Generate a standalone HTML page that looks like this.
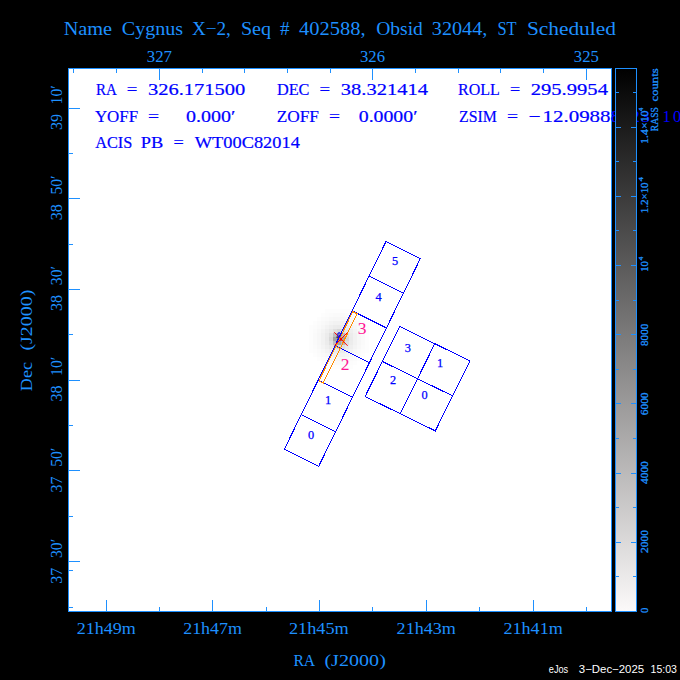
<!DOCTYPE html>
<html><head><meta charset="utf-8"><style>
html,body{margin:0;padding:0;background:#000;width:680px;height:680px;overflow:hidden}
svg{display:block} text{white-space:pre}
</style></head><body>
<svg width="680" height="680" viewBox="0 0 680 680">
<rect x="0" y="0" width="680" height="680" fill="#000"/>
<rect x="68" y="68" width="543" height="543" fill="#ffffff"/>
<g shape-rendering="crispEdges"><rect x="308.5" y="325.0" width="4.0" height="4.0" fill="rgb(253,253,253)"/><rect x="308.5" y="329.0" width="4.0" height="4.0" fill="rgb(253,253,253)"/><rect x="308.5" y="333.0" width="4.0" height="4.0" fill="rgb(253,253,253)"/><rect x="308.5" y="337.0" width="4.0" height="4.0" fill="rgb(253,253,253)"/><rect x="308.5" y="341.0" width="4.0" height="4.0" fill="rgb(253,253,253)"/><rect x="308.5" y="345.0" width="4.0" height="4.0" fill="rgb(253,253,253)"/><rect x="308.5" y="349.0" width="4.0" height="4.0" fill="rgb(253,253,253)"/><rect x="312.5" y="321.0" width="4.0" height="4.0" fill="rgb(253,253,253)"/><rect x="312.5" y="325.0" width="4.0" height="4.0" fill="rgb(252,252,252)"/><rect x="312.5" y="329.0" width="4.0" height="4.0" fill="rgb(251,251,251)"/><rect x="312.5" y="333.0" width="4.0" height="4.0" fill="rgb(250,250,250)"/><rect x="312.5" y="337.0" width="4.0" height="4.0" fill="rgb(250,250,250)"/><rect x="312.5" y="341.0" width="4.0" height="4.0" fill="rgb(250,250,250)"/><rect x="312.5" y="345.0" width="4.0" height="4.0" fill="rgb(251,251,251)"/><rect x="312.5" y="349.0" width="4.0" height="4.0" fill="rgb(252,252,252)"/><rect x="312.5" y="353.0" width="4.0" height="4.0" fill="rgb(253,253,253)"/><rect x="316.5" y="317.0" width="4.0" height="4.0" fill="rgb(253,253,253)"/><rect x="316.5" y="321.0" width="4.0" height="4.0" fill="rgb(251,251,251)"/><rect x="316.5" y="325.0" width="4.0" height="4.0" fill="rgb(250,250,250)"/><rect x="316.5" y="329.0" width="4.0" height="4.0" fill="rgb(248,248,248)"/><rect x="316.5" y="333.0" width="4.0" height="4.0" fill="rgb(247,247,247)"/><rect x="316.5" y="337.0" width="4.0" height="4.0" fill="rgb(247,247,247)"/><rect x="316.5" y="341.0" width="4.0" height="4.0" fill="rgb(247,247,247)"/><rect x="316.5" y="345.0" width="4.0" height="4.0" fill="rgb(248,248,248)"/><rect x="316.5" y="349.0" width="4.0" height="4.0" fill="rgb(250,250,250)"/><rect x="316.5" y="353.0" width="4.0" height="4.0" fill="rgb(251,251,251)"/><rect x="316.5" y="357.0" width="4.0" height="4.0" fill="rgb(253,253,253)"/><rect x="320.5" y="313.0" width="4.0" height="4.0" fill="rgb(253,253,253)"/><rect x="320.5" y="317.0" width="4.0" height="4.0" fill="rgb(251,251,251)"/><rect x="320.5" y="321.0" width="4.0" height="4.0" fill="rgb(249,249,249)"/><rect x="320.5" y="325.0" width="4.0" height="4.0" fill="rgb(247,247,247)"/><rect x="320.5" y="329.0" width="4.0" height="4.0" fill="rgb(244,244,244)"/><rect x="320.5" y="333.0" width="4.0" height="4.0" fill="rgb(242,242,242)"/><rect x="320.5" y="337.0" width="4.0" height="4.0" fill="rgb(242,242,242)"/><rect x="320.5" y="341.0" width="4.0" height="4.0" fill="rgb(242,242,242)"/><rect x="320.5" y="345.0" width="4.0" height="4.0" fill="rgb(244,244,244)"/><rect x="320.5" y="349.0" width="4.0" height="4.0" fill="rgb(247,247,247)"/><rect x="320.5" y="353.0" width="4.0" height="4.0" fill="rgb(249,249,249)"/><rect x="320.5" y="357.0" width="4.0" height="4.0" fill="rgb(251,251,251)"/><rect x="320.5" y="361.0" width="4.0" height="4.0" fill="rgb(253,253,253)"/><rect x="324.5" y="309.0" width="4.0" height="4.0" fill="rgb(253,253,253)"/><rect x="324.5" y="313.0" width="4.0" height="4.0" fill="rgb(252,252,252)"/><rect x="324.5" y="317.0" width="4.0" height="4.0" fill="rgb(250,250,250)"/><rect x="324.5" y="321.0" width="4.0" height="4.0" fill="rgb(247,247,247)"/><rect x="324.5" y="325.0" width="4.0" height="4.0" fill="rgb(243,243,243)"/><rect x="324.5" y="329.0" width="4.0" height="4.0" fill="rgb(239,239,239)"/><rect x="324.5" y="333.0" width="4.0" height="4.0" fill="rgb(236,236,236)"/><rect x="324.5" y="337.0" width="4.0" height="4.0" fill="rgb(235,235,235)"/><rect x="324.5" y="341.0" width="4.0" height="4.0" fill="rgb(236,236,236)"/><rect x="324.5" y="345.0" width="4.0" height="4.0" fill="rgb(239,239,239)"/><rect x="324.5" y="349.0" width="4.0" height="4.0" fill="rgb(243,243,243)"/><rect x="324.5" y="353.0" width="4.0" height="4.0" fill="rgb(247,247,247)"/><rect x="324.5" y="357.0" width="4.0" height="4.0" fill="rgb(250,250,250)"/><rect x="324.5" y="361.0" width="4.0" height="4.0" fill="rgb(252,252,252)"/><rect x="324.5" y="365.0" width="4.0" height="4.0" fill="rgb(253,253,253)"/><rect x="328.5" y="309.0" width="4.0" height="4.0" fill="rgb(253,253,253)"/><rect x="328.5" y="313.0" width="4.0" height="4.0" fill="rgb(251,251,251)"/><rect x="328.5" y="317.0" width="4.0" height="4.0" fill="rgb(248,248,248)"/><rect x="328.5" y="321.0" width="4.0" height="4.0" fill="rgb(244,244,244)"/><rect x="328.5" y="325.0" width="4.0" height="4.0" fill="rgb(239,239,239)"/><rect x="328.5" y="329.0" width="4.0" height="4.0" fill="rgb(233,233,233)"/><rect x="328.5" y="333.0" width="4.0" height="4.0" fill="rgb(223,223,223)"/><rect x="328.5" y="337.0" width="4.0" height="4.0" fill="rgb(216,216,216)"/><rect x="328.5" y="341.0" width="4.0" height="4.0" fill="rgb(223,223,223)"/><rect x="328.5" y="345.0" width="4.0" height="4.0" fill="rgb(233,233,233)"/><rect x="328.5" y="349.0" width="4.0" height="4.0" fill="rgb(239,239,239)"/><rect x="328.5" y="353.0" width="4.0" height="4.0" fill="rgb(244,244,244)"/><rect x="328.5" y="357.0" width="4.0" height="4.0" fill="rgb(248,248,248)"/><rect x="328.5" y="361.0" width="4.0" height="4.0" fill="rgb(251,251,251)"/><rect x="328.5" y="365.0" width="4.0" height="4.0" fill="rgb(253,253,253)"/><rect x="332.5" y="309.0" width="4.0" height="4.0" fill="rgb(253,253,253)"/><rect x="332.5" y="313.0" width="4.0" height="4.0" fill="rgb(250,250,250)"/><rect x="332.5" y="317.0" width="4.0" height="4.0" fill="rgb(247,247,247)"/><rect x="332.5" y="321.0" width="4.0" height="4.0" fill="rgb(242,242,242)"/><rect x="332.5" y="325.0" width="4.0" height="4.0" fill="rgb(236,236,236)"/><rect x="332.5" y="329.0" width="4.0" height="4.0" fill="rgb(223,223,223)"/><rect x="332.5" y="333.0" width="4.0" height="4.0" fill="rgb(189,189,189)"/><rect x="332.5" y="337.0" width="4.0" height="4.0" fill="rgb(163,163,163)"/><rect x="332.5" y="341.0" width="4.0" height="4.0" fill="rgb(189,189,189)"/><rect x="332.5" y="345.0" width="4.0" height="4.0" fill="rgb(223,223,223)"/><rect x="332.5" y="349.0" width="4.0" height="4.0" fill="rgb(236,236,236)"/><rect x="332.5" y="353.0" width="4.0" height="4.0" fill="rgb(242,242,242)"/><rect x="332.5" y="357.0" width="4.0" height="4.0" fill="rgb(247,247,247)"/><rect x="332.5" y="361.0" width="4.0" height="4.0" fill="rgb(250,250,250)"/><rect x="332.5" y="365.0" width="4.0" height="4.0" fill="rgb(253,253,253)"/><rect x="336.5" y="309.0" width="4.0" height="4.0" fill="rgb(253,253,253)"/><rect x="336.5" y="313.0" width="4.0" height="4.0" fill="rgb(250,250,250)"/><rect x="336.5" y="317.0" width="4.0" height="4.0" fill="rgb(247,247,247)"/><rect x="336.5" y="321.0" width="4.0" height="4.0" fill="rgb(242,242,242)"/><rect x="336.5" y="325.0" width="4.0" height="4.0" fill="rgb(235,235,235)"/><rect x="336.5" y="329.0" width="4.0" height="4.0" fill="rgb(216,216,216)"/><rect x="336.5" y="333.0" width="4.0" height="4.0" fill="rgb(163,163,163)"/><rect x="336.5" y="337.0" width="4.0" height="4.0" fill="rgb(120,120,120)"/><rect x="336.5" y="341.0" width="4.0" height="4.0" fill="rgb(163,163,163)"/><rect x="336.5" y="345.0" width="4.0" height="4.0" fill="rgb(216,216,216)"/><rect x="336.5" y="349.0" width="4.0" height="4.0" fill="rgb(235,235,235)"/><rect x="336.5" y="353.0" width="4.0" height="4.0" fill="rgb(242,242,242)"/><rect x="336.5" y="357.0" width="4.0" height="4.0" fill="rgb(247,247,247)"/><rect x="336.5" y="361.0" width="4.0" height="4.0" fill="rgb(250,250,250)"/><rect x="336.5" y="365.0" width="4.0" height="4.0" fill="rgb(253,253,253)"/><rect x="340.5" y="309.0" width="4.0" height="4.0" fill="rgb(253,253,253)"/><rect x="340.5" y="313.0" width="4.0" height="4.0" fill="rgb(250,250,250)"/><rect x="340.5" y="317.0" width="4.0" height="4.0" fill="rgb(247,247,247)"/><rect x="340.5" y="321.0" width="4.0" height="4.0" fill="rgb(242,242,242)"/><rect x="340.5" y="325.0" width="4.0" height="4.0" fill="rgb(236,236,236)"/><rect x="340.5" y="329.0" width="4.0" height="4.0" fill="rgb(223,223,223)"/><rect x="340.5" y="333.0" width="4.0" height="4.0" fill="rgb(189,189,189)"/><rect x="340.5" y="337.0" width="4.0" height="4.0" fill="rgb(163,163,163)"/><rect x="340.5" y="341.0" width="4.0" height="4.0" fill="rgb(189,189,189)"/><rect x="340.5" y="345.0" width="4.0" height="4.0" fill="rgb(223,223,223)"/><rect x="340.5" y="349.0" width="4.0" height="4.0" fill="rgb(236,236,236)"/><rect x="340.5" y="353.0" width="4.0" height="4.0" fill="rgb(242,242,242)"/><rect x="340.5" y="357.0" width="4.0" height="4.0" fill="rgb(247,247,247)"/><rect x="340.5" y="361.0" width="4.0" height="4.0" fill="rgb(250,250,250)"/><rect x="340.5" y="365.0" width="4.0" height="4.0" fill="rgb(253,253,253)"/><rect x="344.5" y="309.0" width="4.0" height="4.0" fill="rgb(253,253,253)"/><rect x="344.5" y="313.0" width="4.0" height="4.0" fill="rgb(251,251,251)"/><rect x="344.5" y="317.0" width="4.0" height="4.0" fill="rgb(248,248,248)"/><rect x="344.5" y="321.0" width="4.0" height="4.0" fill="rgb(244,244,244)"/><rect x="344.5" y="325.0" width="4.0" height="4.0" fill="rgb(239,239,239)"/><rect x="344.5" y="329.0" width="4.0" height="4.0" fill="rgb(233,233,233)"/><rect x="344.5" y="333.0" width="4.0" height="4.0" fill="rgb(223,223,223)"/><rect x="344.5" y="337.0" width="4.0" height="4.0" fill="rgb(216,216,216)"/><rect x="344.5" y="341.0" width="4.0" height="4.0" fill="rgb(223,223,223)"/><rect x="344.5" y="345.0" width="4.0" height="4.0" fill="rgb(233,233,233)"/><rect x="344.5" y="349.0" width="4.0" height="4.0" fill="rgb(239,239,239)"/><rect x="344.5" y="353.0" width="4.0" height="4.0" fill="rgb(244,244,244)"/><rect x="344.5" y="357.0" width="4.0" height="4.0" fill="rgb(248,248,248)"/><rect x="344.5" y="361.0" width="4.0" height="4.0" fill="rgb(251,251,251)"/><rect x="344.5" y="365.0" width="4.0" height="4.0" fill="rgb(253,253,253)"/><rect x="348.5" y="309.0" width="4.0" height="4.0" fill="rgb(253,253,253)"/><rect x="348.5" y="313.0" width="4.0" height="4.0" fill="rgb(252,252,252)"/><rect x="348.5" y="317.0" width="4.0" height="4.0" fill="rgb(250,250,250)"/><rect x="348.5" y="321.0" width="4.0" height="4.0" fill="rgb(247,247,247)"/><rect x="348.5" y="325.0" width="4.0" height="4.0" fill="rgb(243,243,243)"/><rect x="348.5" y="329.0" width="4.0" height="4.0" fill="rgb(239,239,239)"/><rect x="348.5" y="333.0" width="4.0" height="4.0" fill="rgb(236,236,236)"/><rect x="348.5" y="337.0" width="4.0" height="4.0" fill="rgb(235,235,235)"/><rect x="348.5" y="341.0" width="4.0" height="4.0" fill="rgb(236,236,236)"/><rect x="348.5" y="345.0" width="4.0" height="4.0" fill="rgb(239,239,239)"/><rect x="348.5" y="349.0" width="4.0" height="4.0" fill="rgb(243,243,243)"/><rect x="348.5" y="353.0" width="4.0" height="4.0" fill="rgb(247,247,247)"/><rect x="348.5" y="357.0" width="4.0" height="4.0" fill="rgb(250,250,250)"/><rect x="348.5" y="361.0" width="4.0" height="4.0" fill="rgb(252,252,252)"/><rect x="348.5" y="365.0" width="4.0" height="4.0" fill="rgb(253,253,253)"/><rect x="352.5" y="313.0" width="4.0" height="4.0" fill="rgb(253,253,253)"/><rect x="352.5" y="317.0" width="4.0" height="4.0" fill="rgb(251,251,251)"/><rect x="352.5" y="321.0" width="4.0" height="4.0" fill="rgb(249,249,249)"/><rect x="352.5" y="325.0" width="4.0" height="4.0" fill="rgb(247,247,247)"/><rect x="352.5" y="329.0" width="4.0" height="4.0" fill="rgb(244,244,244)"/><rect x="352.5" y="333.0" width="4.0" height="4.0" fill="rgb(242,242,242)"/><rect x="352.5" y="337.0" width="4.0" height="4.0" fill="rgb(242,242,242)"/><rect x="352.5" y="341.0" width="4.0" height="4.0" fill="rgb(242,242,242)"/><rect x="352.5" y="345.0" width="4.0" height="4.0" fill="rgb(244,244,244)"/><rect x="352.5" y="349.0" width="4.0" height="4.0" fill="rgb(247,247,247)"/><rect x="352.5" y="353.0" width="4.0" height="4.0" fill="rgb(249,249,249)"/><rect x="352.5" y="357.0" width="4.0" height="4.0" fill="rgb(251,251,251)"/><rect x="352.5" y="361.0" width="4.0" height="4.0" fill="rgb(253,253,253)"/><rect x="356.5" y="317.0" width="4.0" height="4.0" fill="rgb(253,253,253)"/><rect x="356.5" y="321.0" width="4.0" height="4.0" fill="rgb(251,251,251)"/><rect x="356.5" y="325.0" width="4.0" height="4.0" fill="rgb(250,250,250)"/><rect x="356.5" y="329.0" width="4.0" height="4.0" fill="rgb(248,248,248)"/><rect x="356.5" y="333.0" width="4.0" height="4.0" fill="rgb(247,247,247)"/><rect x="356.5" y="337.0" width="4.0" height="4.0" fill="rgb(247,247,247)"/><rect x="356.5" y="341.0" width="4.0" height="4.0" fill="rgb(247,247,247)"/><rect x="356.5" y="345.0" width="4.0" height="4.0" fill="rgb(248,248,248)"/><rect x="356.5" y="349.0" width="4.0" height="4.0" fill="rgb(250,250,250)"/><rect x="356.5" y="353.0" width="4.0" height="4.0" fill="rgb(251,251,251)"/><rect x="356.5" y="357.0" width="4.0" height="4.0" fill="rgb(253,253,253)"/><rect x="360.5" y="321.0" width="4.0" height="4.0" fill="rgb(253,253,253)"/><rect x="360.5" y="325.0" width="4.0" height="4.0" fill="rgb(252,252,252)"/><rect x="360.5" y="329.0" width="4.0" height="4.0" fill="rgb(251,251,251)"/><rect x="360.5" y="333.0" width="4.0" height="4.0" fill="rgb(250,250,250)"/><rect x="360.5" y="337.0" width="4.0" height="4.0" fill="rgb(250,250,250)"/><rect x="360.5" y="341.0" width="4.0" height="4.0" fill="rgb(250,250,250)"/><rect x="360.5" y="345.0" width="4.0" height="4.0" fill="rgb(251,251,251)"/><rect x="360.5" y="349.0" width="4.0" height="4.0" fill="rgb(252,252,252)"/><rect x="360.5" y="353.0" width="4.0" height="4.0" fill="rgb(253,253,253)"/><rect x="364.5" y="325.0" width="4.0" height="4.0" fill="rgb(253,253,253)"/><rect x="364.5" y="329.0" width="4.0" height="4.0" fill="rgb(253,253,253)"/><rect x="364.5" y="333.0" width="4.0" height="4.0" fill="rgb(253,253,253)"/><rect x="364.5" y="337.0" width="4.0" height="4.0" fill="rgb(253,253,253)"/><rect x="364.5" y="341.0" width="4.0" height="4.0" fill="rgb(253,253,253)"/><rect x="364.5" y="345.0" width="4.0" height="4.0" fill="rgb(253,253,253)"/><rect x="364.5" y="349.0" width="4.0" height="4.0" fill="rgb(253,253,253)"/></g>
<polygon points="386.00,241.50 420.30,258.70 318.60,466.48 284.30,449.28" fill="none" stroke="#0000ff" stroke-width="1.0" shape-rendering="crispEdges"/>
<line x1="369.05" y1="276.13" x2="403.35" y2="293.33" stroke="#0000ff" stroke-width="1.0" shape-rendering="crispEdges"/>
<line x1="352.10" y1="310.76" x2="386.40" y2="327.96" stroke="#0000ff" stroke-width="1.0" shape-rendering="crispEdges"/>
<line x1="335.15" y1="345.39" x2="369.45" y2="362.59" stroke="#0000ff" stroke-width="1.0" shape-rendering="crispEdges"/>
<line x1="318.20" y1="380.02" x2="352.50" y2="397.22" stroke="#0000ff" stroke-width="1.0" shape-rendering="crispEdges"/>
<line x1="301.25" y1="414.65" x2="335.55" y2="431.85" stroke="#0000ff" stroke-width="1.0" shape-rendering="crispEdges"/>
<polygon points="399.70,326.50 469.90,360.90 435.30,430.90 365.10,396.50" fill="none" stroke="#0000ff" stroke-width="1.0" shape-rendering="crispEdges"/>
<line x1="434.80" y1="343.70" x2="400.20" y2="413.70" stroke="#0000ff" stroke-width="1.0" shape-rendering="crispEdges"/>
<line x1="382.40" y1="361.50" x2="452.60" y2="395.90" stroke="#0000ff" stroke-width="1.0" shape-rendering="crispEdges"/>
<polygon points="352.80,311.66 357.09,313.81 340.14,348.44 335.85,346.29" fill="none" stroke="#ff8c00" stroke-width="1.0" shape-rendering="crispEdges"/>
<polygon points="335.85,346.29 340.14,348.44 323.19,383.07 318.90,380.92" fill="none" stroke="#ff8c00" stroke-width="1.0" shape-rendering="crispEdges"/>
<text x="395.00" y="265.42" font-size="12.3" fill="#0000ff" stroke="#0000ff" stroke-width="0.25" font-family='"Liberation Serif", serif' text-anchor="middle">5</text>
<text x="378.60" y="300.62" font-size="12.3" fill="#0000ff" stroke="#0000ff" stroke-width="0.25" font-family='"Liberation Serif", serif' text-anchor="middle">4</text>
<text x="328.10" y="403.92" font-size="12.3" fill="#0000ff" stroke="#0000ff" stroke-width="0.25" font-family='"Liberation Serif", serif' text-anchor="middle">1</text>
<text x="311.00" y="438.82" font-size="12.3" fill="#0000ff" stroke="#0000ff" stroke-width="0.25" font-family='"Liberation Serif", serif' text-anchor="middle">0</text>
<text x="407.80" y="351.82" font-size="12.3" fill="#0000ff" stroke="#0000ff" stroke-width="0.25" font-family='"Liberation Serif", serif' text-anchor="middle">3</text>
<text x="440.00" y="367.12" font-size="12.3" fill="#0000ff" stroke="#0000ff" stroke-width="0.25" font-family='"Liberation Serif", serif' text-anchor="middle">1</text>
<text x="393.00" y="383.52" font-size="12.3" fill="#0000ff" stroke="#0000ff" stroke-width="0.25" font-family='"Liberation Serif", serif' text-anchor="middle">2</text>
<text x="424.50" y="399.02" font-size="12.3" fill="#0000ff" stroke="#0000ff" stroke-width="0.25" font-family='"Liberation Serif", serif' text-anchor="middle">0</text>
<text x="362.10" y="334.16" font-size="17.5" fill="#ff1493" font-family='"Liberation Serif", serif' text-anchor="middle">3</text>
<text x="345.00" y="369.96" font-size="17.5" fill="#ff1493" font-family='"Liberation Serif", serif' text-anchor="middle">2</text>
<line x1="334.3" y1="332.3" x2="347.6" y2="345.8" stroke="#ff0000" stroke-width="1.0"/>
<line x1="347.5" y1="332.5" x2="334.5" y2="345.5" stroke="#ff0000" stroke-width="1.0"/>
<ellipse cx="339.1" cy="334.8" rx="1.3" ry="2.3" fill="none" stroke="#0000ff" stroke-width="1"/>
<rect x="336.5" y="336.5" width="1.2" height="1.2" fill="#000"/>
<rect x="340" y="338.5" width="2" height="2" fill="#e00"/>
<line x1="68.5" y1="68" x2="68.5" y2="612" stroke="#1e90ff" stroke-width="1"/>
<line x1="68" y1="68.5" x2="612" y2="68.5" stroke="#1e90ff" stroke-width="1"/>
<line x1="611.5" y1="68" x2="611.5" y2="612" stroke="#1e90ff" stroke-width="1"/>
<line x1="68" y1="611.5" x2="612" y2="611.5" stroke="#1e90ff" stroke-width="1"/>
<rect x="159" y="69" width="1" height="11" fill="#1e90ff"/>
<rect x="372" y="69" width="1" height="11" fill="#1e90ff"/>
<rect x="586" y="69" width="1" height="11" fill="#1e90ff"/>
<rect x="73" y="69" width="1" height="4" fill="#1e90ff"/>
<rect x="116" y="69" width="1" height="4" fill="#1e90ff"/>
<rect x="202" y="69" width="1" height="4" fill="#1e90ff"/>
<rect x="244" y="69" width="1" height="4" fill="#1e90ff"/>
<rect x="287" y="69" width="1" height="4" fill="#1e90ff"/>
<rect x="330" y="69" width="1" height="4" fill="#1e90ff"/>
<rect x="415" y="69" width="1" height="4" fill="#1e90ff"/>
<rect x="458" y="69" width="1" height="4" fill="#1e90ff"/>
<rect x="500" y="69" width="1" height="4" fill="#1e90ff"/>
<rect x="543" y="69" width="1" height="4" fill="#1e90ff"/>
<rect x="106" y="600" width="1" height="11" fill="#1e90ff"/>
<rect x="212" y="600" width="1" height="11" fill="#1e90ff"/>
<rect x="319" y="600" width="1" height="11" fill="#1e90ff"/>
<rect x="426" y="600" width="1" height="11" fill="#1e90ff"/>
<rect x="533" y="600" width="1" height="11" fill="#1e90ff"/>
<rect x="159" y="607" width="1" height="4" fill="#1e90ff"/>
<rect x="266" y="607" width="1" height="4" fill="#1e90ff"/>
<rect x="372" y="607" width="1" height="4" fill="#1e90ff"/>
<rect x="479" y="607" width="1" height="4" fill="#1e90ff"/>
<rect x="586" y="607" width="1" height="4" fill="#1e90ff"/>
<rect x="69" y="108" width="11" height="1" fill="#1e90ff"/>
<rect x="69" y="198" width="11" height="1" fill="#1e90ff"/>
<rect x="69" y="289" width="11" height="1" fill="#1e90ff"/>
<rect x="69" y="380" width="11" height="1" fill="#1e90ff"/>
<rect x="69" y="470" width="11" height="1" fill="#1e90ff"/>
<rect x="69" y="561" width="11" height="1" fill="#1e90ff"/>
<rect x="69" y="153" width="4" height="1" fill="#1e90ff"/>
<rect x="69" y="244" width="4" height="1" fill="#1e90ff"/>
<rect x="69" y="334" width="4" height="1" fill="#1e90ff"/>
<rect x="69" y="425" width="4" height="1" fill="#1e90ff"/>
<rect x="69" y="516" width="4" height="1" fill="#1e90ff"/>
<rect x="69" y="607" width="4" height="1" fill="#1e90ff"/>
<rect x="69" y="570" width="4" height="1" fill="#1e90ff"/>
<text xml:space="preserve" x="631.40" y="121.80" font-size="16.5" fill="#0000ff" font-family='"Liberation Serif", serif' text-anchor="start">2</text>
<text xml:space="preserve" x="641.80" y="121.80" font-size="16.5" fill="#0000ff" font-family='"Liberation Serif", serif' text-anchor="start">3</text>
<text xml:space="preserve" x="662.60" y="121.80" font-size="16.5" fill="#0000ff" font-family='"Liberation Serif", serif' text-anchor="start">1</text>
<text xml:space="preserve" x="673.00" y="121.80" font-size="16.5" fill="#0000ff" font-family='"Liberation Serif", serif' text-anchor="start">0</text>
<text class="w" id="w34" xml:space="preserve" x="96.10" y="94.80" font-size="16.5" fill="#0000ff" font-family='"Liberation Serif", serif' textLength="20.79" lengthAdjust="spacingAndGlyphs" stroke="#0000ff" stroke-width="0.2">RA</text>
<text class="w" id="w35" xml:space="preserve" x="126.70" y="94.80" font-size="16.5" fill="#0000ff" font-family='"Liberation Serif", serif' textLength="10.58" lengthAdjust="spacingAndGlyphs" stroke="#0000ff" stroke-width="0.2">=</text>
<text class="w" id="w36" xml:space="preserve" x="147.90" y="94.80" font-size="16.5" fill="#0000ff" font-family='"Liberation Serif", serif' textLength="97.40" lengthAdjust="spacingAndGlyphs" stroke="#0000ff" stroke-width="0.2">326.171500</text>
<text class="w" id="w37" xml:space="preserve" x="276.90" y="94.80" font-size="16.5" fill="#0000ff" font-family='"Liberation Serif", serif' textLength="32.50" lengthAdjust="spacingAndGlyphs" stroke="#0000ff" stroke-width="0.2">DEC</text>
<text class="w" id="w38" xml:space="preserve" x="319.60" y="94.80" font-size="16.5" fill="#0000ff" font-family='"Liberation Serif", serif' textLength="10.58" lengthAdjust="spacingAndGlyphs" stroke="#0000ff" stroke-width="0.2">=</text>
<text class="w" id="w39" xml:space="preserve" x="340.80" y="94.80" font-size="16.5" fill="#0000ff" font-family='"Liberation Serif", serif' textLength="87.20" lengthAdjust="spacingAndGlyphs" stroke="#0000ff" stroke-width="0.2">38.321414</text>
<text class="w" id="w40" xml:space="preserve" x="458.10" y="94.80" font-size="16.5" fill="#0000ff" font-family='"Liberation Serif", serif' textLength="41.82" lengthAdjust="spacingAndGlyphs" stroke="#0000ff" stroke-width="0.2">ROLL</text>
<text class="w" id="w41" xml:space="preserve" x="509.90" y="94.80" font-size="16.5" fill="#0000ff" font-family='"Liberation Serif", serif' textLength="10.18" lengthAdjust="spacingAndGlyphs" stroke="#0000ff" stroke-width="0.2">=</text>
<text class="w" id="w42" xml:space="preserve" x="530.70" y="94.80" font-size="16.5" fill="#0000ff" font-family='"Liberation Serif", serif' textLength="77.30" lengthAdjust="spacingAndGlyphs" stroke="#0000ff" stroke-width="0.2">295.9954</text>
<text class="w" id="w43" xml:space="preserve" x="94.90" y="121.80" font-size="16.5" fill="#0000ff" font-family='"Liberation Serif", serif' textLength="43.23" lengthAdjust="spacingAndGlyphs" stroke="#0000ff" stroke-width="0.2">YOFF</text>
<text class="w" id="w44" xml:space="preserve" x="147.90" y="121.80" font-size="16.5" fill="#0000ff" font-family='"Liberation Serif", serif' textLength="11.08" lengthAdjust="spacingAndGlyphs" stroke="#0000ff" stroke-width="0.2">=</text>
<text class="w" id="w45" xml:space="preserve" x="185.90" y="121.80" font-size="16.5" fill="#0000ff" font-family='"Liberation Serif", serif' textLength="49.38" lengthAdjust="spacingAndGlyphs" stroke="#0000ff" stroke-width="0.2">0.000′</text>
<text class="w" id="w46" xml:space="preserve" x="276.70" y="121.80" font-size="16.5" fill="#0000ff" font-family='"Liberation Serif", serif' textLength="42.31" lengthAdjust="spacingAndGlyphs" stroke="#0000ff" stroke-width="0.2">ZOFF</text>
<text class="w" id="w47" xml:space="preserve" x="329.00" y="121.80" font-size="16.5" fill="#0000ff" font-family='"Liberation Serif", serif' textLength="10.98" lengthAdjust="spacingAndGlyphs" stroke="#0000ff" stroke-width="0.2">=</text>
<text class="w" id="w48" xml:space="preserve" x="358.75" y="121.80" font-size="16.5" fill="#0000ff" font-family='"Liberation Serif", serif' textLength="58.73" lengthAdjust="spacingAndGlyphs" stroke="#0000ff" stroke-width="0.2">0.0000′</text>
<text class="w" id="w49" xml:space="preserve" x="459.10" y="121.80" font-size="16.5" fill="#0000ff" font-family='"Liberation Serif", serif' textLength="37.79" lengthAdjust="spacingAndGlyphs" stroke="#0000ff" stroke-width="0.2">ZSIM</text>
<text class="w" id="w50" xml:space="preserve" x="506.90" y="121.80" font-size="16.5" fill="#0000ff" font-family='"Liberation Serif", serif' textLength="11.08" lengthAdjust="spacingAndGlyphs" stroke="#0000ff" stroke-width="0.2">=</text>
<text class="w" id="w51" xml:space="preserve" x="528.50" y="121.80" font-size="16.5" fill="#0000ff" font-family='"Liberation Serif", serif' textLength="11.98" lengthAdjust="spacingAndGlyphs" stroke="#0000ff" stroke-width="0.2">−</text>
<text class="w" id="w52" xml:space="preserve" x="542.50" y="121.80" font-size="16.5" fill="#0000ff" font-family='"Liberation Serif", serif' textLength="78.50" lengthAdjust="spacingAndGlyphs" stroke="#0000ff" stroke-width="0.2">12.09888</text>
<text class="w" id="w53" xml:space="preserve" x="95.20" y="148.20" font-size="16.5" fill="#0000ff" font-family='"Liberation Serif", serif' textLength="37.17" lengthAdjust="spacingAndGlyphs" stroke="#0000ff" stroke-width="0.2">ACIS</text>
<text class="w" id="w54" xml:space="preserve" x="140.80" y="148.20" font-size="16.5" fill="#0000ff" font-family='"Liberation Serif", serif' textLength="22.47" lengthAdjust="spacingAndGlyphs" stroke="#0000ff" stroke-width="0.2">PB</text>
<text class="w" id="w55" xml:space="preserve" x="173.60" y="148.20" font-size="16.5" fill="#0000ff" font-family='"Liberation Serif", serif' textLength="10.28" lengthAdjust="spacingAndGlyphs" stroke="#0000ff" stroke-width="0.2">=</text>
<text class="w" id="w56" xml:space="preserve" x="194.80" y="148.20" font-size="16.5" fill="#0000ff" font-family='"Liberation Serif", serif' textLength="105.03" lengthAdjust="spacingAndGlyphs" stroke="#0000ff" stroke-width="0.2">WT00C82014</text>
<defs><linearGradient id="cb" x1="0" y1="0" x2="0" y2="1"><stop offset="0" stop-color="#000000"/><stop offset="1" stop-color="#fbf9f9"/></linearGradient></defs>
<rect x="615" y="68" width="21" height="543" fill="url(#cb)"/>
<rect x="615.5" y="68.5" width="21" height="543" fill="none" stroke="#1e90ff" stroke-width="1"/>
<rect x="616" y="576" width="3" height="1" fill="#1e90ff"/>
<rect x="633" y="576" width="3" height="1" fill="#1e90ff"/>
<rect x="616" y="542" width="5" height="1" fill="#1e90ff"/>
<rect x="631" y="542" width="5" height="1" fill="#1e90ff"/>
<rect x="616" y="507" width="3" height="1" fill="#1e90ff"/>
<rect x="633" y="507" width="3" height="1" fill="#1e90ff"/>
<rect x="616" y="473" width="5" height="1" fill="#1e90ff"/>
<rect x="631" y="473" width="5" height="1" fill="#1e90ff"/>
<rect x="616" y="438" width="3" height="1" fill="#1e90ff"/>
<rect x="633" y="438" width="3" height="1" fill="#1e90ff"/>
<rect x="616" y="403" width="5" height="1" fill="#1e90ff"/>
<rect x="631" y="403" width="5" height="1" fill="#1e90ff"/>
<rect x="616" y="369" width="3" height="1" fill="#1e90ff"/>
<rect x="633" y="369" width="3" height="1" fill="#1e90ff"/>
<rect x="616" y="334" width="5" height="1" fill="#1e90ff"/>
<rect x="631" y="334" width="5" height="1" fill="#1e90ff"/>
<rect x="616" y="300" width="3" height="1" fill="#1e90ff"/>
<rect x="633" y="300" width="3" height="1" fill="#1e90ff"/>
<rect x="616" y="265" width="5" height="1" fill="#1e90ff"/>
<rect x="631" y="265" width="5" height="1" fill="#1e90ff"/>
<rect x="616" y="230" width="3" height="1" fill="#1e90ff"/>
<rect x="633" y="230" width="3" height="1" fill="#1e90ff"/>
<rect x="616" y="196" width="5" height="1" fill="#1e90ff"/>
<rect x="631" y="196" width="5" height="1" fill="#1e90ff"/>
<rect x="616" y="161" width="3" height="1" fill="#1e90ff"/>
<rect x="633" y="161" width="3" height="1" fill="#1e90ff"/>
<rect x="616" y="127" width="5" height="1" fill="#1e90ff"/>
<rect x="631" y="127" width="5" height="1" fill="#1e90ff"/>
<rect x="616" y="92" width="3" height="1" fill="#1e90ff"/>
<rect x="633" y="92" width="3" height="1" fill="#1e90ff"/>
<text class="w" id="w0" xml:space="preserve" x="63.70" y="35.00" font-size="18.5" fill="#1e90ff" font-family='"Liberation Serif", serif' textLength="48.46" lengthAdjust="spacingAndGlyphs">Name</text>
<text class="w" id="w1" xml:space="preserve" x="121.80" y="35.00" font-size="18.5" fill="#1e90ff" font-family='"Liberation Serif", serif' textLength="61.32" lengthAdjust="spacingAndGlyphs">Cygnus</text>
<text class="w" id="w2" xml:space="preserve" x="191.90" y="35.00" font-size="18.5" fill="#1e90ff" font-family='"Liberation Serif", serif' textLength="39.02" lengthAdjust="spacingAndGlyphs">X−2,</text>
<text class="w" id="w3" xml:space="preserve" x="240.90" y="35.00" font-size="18.5" fill="#1e90ff" font-family='"Liberation Serif", serif' textLength="30.10" lengthAdjust="spacingAndGlyphs">Seq</text>
<text class="w" id="w4" xml:space="preserve" x="279.90" y="35.00" font-size="18.5" fill="#1e90ff" font-family='"Liberation Serif", serif' textLength="9.50" lengthAdjust="spacingAndGlyphs">#</text>
<text class="w" id="w5" xml:space="preserve" x="299.10" y="35.00" font-size="18.5" fill="#1e90ff" font-family='"Liberation Serif", serif' textLength="66.50" lengthAdjust="spacingAndGlyphs">402588,</text>
<text class="w" id="w6" xml:space="preserve" x="376.20" y="35.00" font-size="18.5" fill="#1e90ff" font-family='"Liberation Serif", serif' textLength="46.68" lengthAdjust="spacingAndGlyphs">Obsid</text>
<text class="w" id="w7" xml:space="preserve" x="431.80" y="35.00" font-size="18.5" fill="#1e90ff" font-family='"Liberation Serif", serif' textLength="55.50" lengthAdjust="spacingAndGlyphs">32044,</text>
<text class="w" id="w8" xml:space="preserve" x="497.50" y="35.00" font-size="18.5" fill="#1e90ff" font-family='"Liberation Serif", serif' textLength="19.14" lengthAdjust="spacingAndGlyphs">ST</text>
<text class="w" id="w9" xml:space="preserve" x="526.90" y="35.00" font-size="18.5" fill="#1e90ff" font-family='"Liberation Serif", serif' textLength="89.01" lengthAdjust="spacingAndGlyphs">Scheduled</text>
<text class="w" id="w10" xml:space="preserve" x="146.80" y="62.00" font-size="16.3" fill="#1e90ff" font-family='"Liberation Serif", serif' textLength="25.20" lengthAdjust="spacingAndGlyphs">327</text>
<text class="w" id="w11" xml:space="preserve" x="360.00" y="62.00" font-size="16.3" fill="#1e90ff" font-family='"Liberation Serif", serif' textLength="25.00" lengthAdjust="spacingAndGlyphs">326</text>
<text class="w" id="w12" xml:space="preserve" x="573.80" y="62.00" font-size="16.3" fill="#1e90ff" font-family='"Liberation Serif", serif' textLength="25.00" lengthAdjust="spacingAndGlyphs">325</text>
<text class="w" id="w13" xml:space="preserve" x="76.80" y="634.00" font-size="16.3" fill="#1e90ff" font-family='"Liberation Serif", serif' textLength="59.06" lengthAdjust="spacingAndGlyphs">21h49m</text>
<text class="w" id="w14" xml:space="preserve" x="183.20" y="634.00" font-size="16.3" fill="#1e90ff" font-family='"Liberation Serif", serif' textLength="58.76" lengthAdjust="spacingAndGlyphs">21h47m</text>
<text class="w" id="w15" xml:space="preserve" x="289.00" y="634.00" font-size="16.3" fill="#1e90ff" font-family='"Liberation Serif", serif' textLength="59.76" lengthAdjust="spacingAndGlyphs">21h45m</text>
<text class="w" id="w16" xml:space="preserve" x="396.60" y="634.00" font-size="16.3" fill="#1e90ff" font-family='"Liberation Serif", serif' textLength="59.26" lengthAdjust="spacingAndGlyphs">21h43m</text>
<text class="w" id="w17" xml:space="preserve" x="503.50" y="634.00" font-size="16.3" fill="#1e90ff" font-family='"Liberation Serif", serif' textLength="59.26" lengthAdjust="spacingAndGlyphs">21h41m</text>
<text class="w" id="w18" xml:space="preserve" x="293.40" y="665.60" font-size="17.2" fill="#1e90ff" font-family='"Liberation Serif", serif' textLength="21.79" lengthAdjust="spacingAndGlyphs">RA</text>
<text class="w" id="w19" xml:space="preserve" x="324.40" y="665.60" font-size="17.2" fill="#1e90ff" font-family='"Liberation Serif", serif' textLength="61.50" lengthAdjust="spacingAndGlyphs">(J2000)</text>
<text class="w" id="w20" xml:space="preserve" x="32.00" y="391.20" font-size="17.2" fill="#1e90ff" font-family='"Liberation Serif", serif' textLength="29.20" lengthAdjust="spacingAndGlyphs" transform="rotate(-90 32.00 391.20)">Dec</text>
<text class="w" id="w21" xml:space="preserve" x="32.00" y="350.60" font-size="17.2" fill="#1e90ff" font-family='"Liberation Serif", serif' textLength="60.90" lengthAdjust="spacingAndGlyphs" transform="rotate(-90 32.00 350.60)">(J2000)</text>
<text class="w" id="w22" xml:space="preserve" x="62.00" y="130.10" font-size="16.3" fill="#1e90ff" font-family='"Liberation Serif", serif' textLength="16.00" lengthAdjust="spacingAndGlyphs" transform="rotate(-90 62.00 130.10)">39</text>
<text class="w" id="w23" xml:space="preserve" x="62.00" y="104.40" font-size="16.3" fill="#1e90ff" font-family='"Liberation Serif", serif' textLength="19.08" lengthAdjust="spacingAndGlyphs" transform="rotate(-90 62.00 104.40)">10′</text>
<text class="w" id="w24" xml:space="preserve" x="62.00" y="220.30" font-size="16.3" fill="#1e90ff" font-family='"Liberation Serif", serif' textLength="16.00" lengthAdjust="spacingAndGlyphs" transform="rotate(-90 62.00 220.30)">38</text>
<text class="w" id="w25" xml:space="preserve" x="62.00" y="194.60" font-size="16.3" fill="#1e90ff" font-family='"Liberation Serif", serif' textLength="19.08" lengthAdjust="spacingAndGlyphs" transform="rotate(-90 62.00 194.60)">50′</text>
<text class="w" id="w26" xml:space="preserve" x="62.00" y="310.90" font-size="16.3" fill="#1e90ff" font-family='"Liberation Serif", serif' textLength="16.00" lengthAdjust="spacingAndGlyphs" transform="rotate(-90 62.00 310.90)">38</text>
<text class="w" id="w27" xml:space="preserve" x="62.00" y="285.20" font-size="16.3" fill="#1e90ff" font-family='"Liberation Serif", serif' textLength="19.08" lengthAdjust="spacingAndGlyphs" transform="rotate(-90 62.00 285.20)">30′</text>
<text class="w" id="w28" xml:space="preserve" x="62.00" y="401.60" font-size="16.3" fill="#1e90ff" font-family='"Liberation Serif", serif' textLength="16.00" lengthAdjust="spacingAndGlyphs" transform="rotate(-90 62.00 401.60)">38</text>
<text class="w" id="w29" xml:space="preserve" x="62.00" y="375.90" font-size="16.3" fill="#1e90ff" font-family='"Liberation Serif", serif' textLength="19.08" lengthAdjust="spacingAndGlyphs" transform="rotate(-90 62.00 375.90)">10′</text>
<text class="w" id="w30" xml:space="preserve" x="62.00" y="492.50" font-size="16.3" fill="#1e90ff" font-family='"Liberation Serif", serif' textLength="16.00" lengthAdjust="spacingAndGlyphs" transform="rotate(-90 62.00 492.50)">37</text>
<text class="w" id="w31" xml:space="preserve" x="62.00" y="466.80" font-size="16.3" fill="#1e90ff" font-family='"Liberation Serif", serif' textLength="19.08" lengthAdjust="spacingAndGlyphs" transform="rotate(-90 62.00 466.80)">50′</text>
<text class="w" id="w32" xml:space="preserve" x="62.00" y="583.70" font-size="16.3" fill="#1e90ff" font-family='"Liberation Serif", serif' textLength="16.00" lengthAdjust="spacingAndGlyphs" transform="rotate(-90 62.00 583.70)">37</text>
<text class="w" id="w33" xml:space="preserve" x="62.00" y="558.00" font-size="16.3" fill="#1e90ff" font-family='"Liberation Serif", serif' textLength="19.08" lengthAdjust="spacingAndGlyphs" transform="rotate(-90 62.00 558.00)">30′</text>
<text class="w" id="w57" xml:space="preserve" x="647.90" y="144.00" font-size="10.5" fill="#1e90ff" font-family='"Liberation Serif", serif' textLength="33.59" lengthAdjust="spacingAndGlyphs" transform="rotate(-90 647.90 144.00)" stroke="#1e90ff" stroke-width="0.3">1.4×10</text>
<text class="w" id="w58" xml:space="preserve" x="643.00" y="111.30" font-size="7" fill="#1e90ff" font-family='"Liberation Serif", serif' textLength="3.50" lengthAdjust="spacingAndGlyphs" transform="rotate(-90 643.00 111.30)" stroke="#1e90ff" stroke-width="0.3">4</text>
<text class="w" id="w59" xml:space="preserve" x="647.90" y="213.20" font-size="10.5" fill="#1e90ff" font-family='"Liberation Serif", serif' textLength="30.79" lengthAdjust="spacingAndGlyphs" transform="rotate(-90 647.90 213.20)" stroke="#1e90ff" stroke-width="0.3">1.2×10</text>
<text class="w" id="w60" xml:space="preserve" x="642.60" y="181.50" font-size="7" fill="#1e90ff" font-family='"Liberation Serif", serif' textLength="4.50" lengthAdjust="spacingAndGlyphs" transform="rotate(-90 642.60 181.50)" stroke="#1e90ff" stroke-width="0.3">4</text>
<text class="w" id="w61" xml:space="preserve" x="647.90" y="271.80" font-size="10.5" fill="#1e90ff" font-family='"Liberation Serif", serif' textLength="10.60" lengthAdjust="spacingAndGlyphs" transform="rotate(-90 647.90 271.80)" stroke="#1e90ff" stroke-width="0.3">10</text>
<text class="w" id="w62" xml:space="preserve" x="643.00" y="260.60" font-size="7" fill="#1e90ff" font-family='"Liberation Serif", serif' textLength="3.80" lengthAdjust="spacingAndGlyphs" transform="rotate(-90 643.00 260.60)" stroke="#1e90ff" stroke-width="0.3">4</text>
<text class="w" id="w63" xml:space="preserve" x="647.90" y="345.90" font-size="10.5" fill="#1e90ff" font-family='"Liberation Serif", serif' textLength="22.10" lengthAdjust="spacingAndGlyphs" transform="rotate(-90 647.90 345.90)" stroke="#1e90ff" stroke-width="0.3">8000</text>
<text class="w" id="w64" xml:space="preserve" x="647.90" y="415.30" font-size="10.5" fill="#1e90ff" font-family='"Liberation Serif", serif' textLength="22.90" lengthAdjust="spacingAndGlyphs" transform="rotate(-90 647.90 415.30)" stroke="#1e90ff" stroke-width="0.3">6000</text>
<text class="w" id="w65" xml:space="preserve" x="647.90" y="484.00" font-size="10.5" fill="#1e90ff" font-family='"Liberation Serif", serif' textLength="22.80" lengthAdjust="spacingAndGlyphs" transform="rotate(-90 647.90 484.00)" stroke="#1e90ff" stroke-width="0.3">4000</text>
<text class="w" id="w66" xml:space="preserve" x="647.90" y="553.00" font-size="10.5" fill="#1e90ff" font-family='"Liberation Serif", serif' textLength="23.00" lengthAdjust="spacingAndGlyphs" transform="rotate(-90 647.90 553.00)" stroke="#1e90ff" stroke-width="0.3">2000</text>
<text class="w" id="w67" xml:space="preserve" x="647.90" y="613.00" font-size="10.5" fill="#1e90ff" font-family='"Liberation Serif", serif' textLength="5.30" lengthAdjust="spacingAndGlyphs" transform="rotate(-90 647.90 613.00)" stroke="#1e90ff" stroke-width="0.3">0</text>
<text class="w" id="w68" xml:space="preserve" x="657.60" y="131.20" font-size="10.5" fill="#1e90ff" font-family='"Liberation Serif", serif' textLength="24.02" lengthAdjust="spacingAndGlyphs" transform="rotate(-90 657.60 131.20)" stroke="#1e90ff" stroke-width="0.3">RASS</text>
<text class="w" id="w69" xml:space="preserve" x="658.00" y="101.50" font-size="10.5" fill="#1e90ff" font-family='"Liberation Serif", serif' textLength="33.11" lengthAdjust="spacingAndGlyphs" transform="rotate(-90 658.00 101.50)" stroke="#1e90ff" stroke-width="0.3">counts</text>
<text class="w" id="w70" xml:space="preserve" x="548.80" y="672.70" font-size="10.8" fill="#ffffff" font-family='"Liberation Sans", sans-serif' textLength="19.43" lengthAdjust="spacingAndGlyphs">eJos</text>
<text class="w" id="w71" xml:space="preserve" x="578.80" y="672.70" font-size="10.8" fill="#ffffff" font-family='"Liberation Sans", sans-serif' textLength="65.32" lengthAdjust="spacingAndGlyphs">3−Dec−2025</text>
<text class="w" id="w72" xml:space="preserve" x="650.60" y="672.70" font-size="10.8" fill="#ffffff" font-family='"Liberation Sans", sans-serif' textLength="26.37" lengthAdjust="spacingAndGlyphs">15:03</text>
</svg>
</body></html>
